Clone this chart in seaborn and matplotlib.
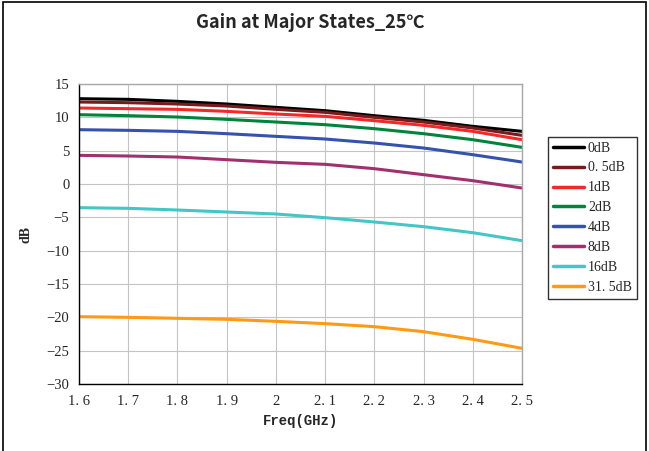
import matplotlib
matplotlib.use('Agg')
import matplotlib.pyplot as plt
import pandas as pd
import seaborn as sns
from matplotlib.patches import Rectangle

# Gain readings (dB) at each frequency, one list per attenuation state
freq = [1.6, 1.7, 1.8, 1.9, 2.0, 2.1, 2.2, 2.3, 2.4, 2.5]
gain_0db = [12.8, 12.7, 12.4, 12.0, 11.5, 11.0, 10.25, 9.55, 8.65, 7.9]
gain_0_5db = [12.3, 12.2, 12.0, 11.7, 11.2, 10.75, 10.0, 9.3, 8.4, 7.3]
gain_1db = [11.4, 11.3, 11.2, 10.9, 10.5, 10.15, 9.5, 8.8, 7.9, 6.65]
gain_2db = [10.4, 10.25, 10.05, 9.7, 9.3, 8.9, 8.3, 7.55, 6.65, 5.5]
gain_4db = [8.15, 8.05, 7.9, 7.55, 7.15, 6.75, 6.15, 5.4, 4.4, 3.3]
gain_8db = [4.3, 4.2, 4.05, 3.65, 3.25, 2.95, 2.3, 1.4, 0.5, -0.6]
gain_16db = [-3.55, -3.65, -3.9, -4.2, -4.5, -5.05, -5.7, -6.4, -7.3, -8.5]
gain_31_5db = [-19.9, -20.0, -20.15, -20.3, -20.6, -20.95, -21.4, -22.15, -23.3, -24.65]

states = ['0dB', '0. 5dB', '1dB', '2dB', '4dB', '8dB', '16dB', '31. 5dB']
series = [gain_0db, gain_0_5db, gain_1db, gain_2db, gain_4db, gain_8db, gain_16db, gain_31_5db]
colors = ['#000000', '#7a1a1a', '#f42828', '#00843c', '#3552ae', '#a03070', '#45c6c6', '#ff9a14']

rows = []
for name, vals in zip(states, series):
    for f, v in zip(freq, vals):
        rows.append({'freq': f, 'gain': v, 'state': name})
df = pd.DataFrame(rows)

sns.set_style('white')
serif = ['Liberation Serif', 'DejaVu Serif']

fig = plt.figure(figsize=(6.49, 4.51), dpi=100)
ax = fig.add_axes([0.1217, 0.1486, 0.6826, 0.6651])

sns.lineplot(data=df, x='freq', y='gain', hue='state', hue_order=states,
             palette=colors, linewidth=2.2, ax=ax)

ax.set_xlim(1.6, 2.5)
ax.set_ylim(-30, 15)
ax.set_xticks(freq)
ax.set_xticklabels(['1. 6', '1. 7', '1. 8', '1. 9', '2', '2. 1', '2. 2', '2. 3', '2. 4', '2. 5'],
                   family=serif, fontsize=10.5)
ax.set_yticks(range(-30, 16, 5))
ax.set_yticklabels([str(v).replace('-', '\u2212') for v in range(-30, 16, 5)],
                   family=serif, fontsize=10.5)
ax.tick_params(axis='x', direction='in', length=5, width=1, color='black', pad=8)
ax.tick_params(axis='y', direction='out', length=4, width=1, color='black', pad=3)
ax.grid(True, color='#c4c4c4', linewidth=0.8)
for side in ['left', 'bottom']:
    ax.spines[side].set_color('black')
    ax.spines[side].set_linewidth(1.0)
for side in ['top', 'right']:
    ax.spines[side].set_color('#a8a8a8')
    ax.spines[side].set_linewidth(1.0)

ax.set_xlabel('Freq(GHz)', family=['Liberation Mono', 'DejaVu Sans Mono'], fontweight='bold',
              fontsize=10, labelpad=4)
ax.set_ylabel('dB', family=['Liberation Serif', 'DejaVu Serif'], fontweight='bold',
              fontsize=10, labelpad=10)

fig.text(0.478, 0.951, 'Gain at Major States_25\u2103', ha='center', va='center',
         family=['Noto Sans CJK TC', 'DejaVu Sans'], fontweight='bold', fontsize=13)

leg = ax.legend(loc='upper left', bbox_to_anchor=(0.845, 0.697),
                bbox_transform=fig.transFigure, frameon=True, fancybox=False,
                prop={'family': serif, 'size': 10}, handlelength=2.2,
                handletextpad=0.3, labelspacing=0.5, borderpad=0.35,
                borderaxespad=0)
leg.get_frame().set_edgecolor('black')
leg.get_frame().set_linewidth(1.0)
for line in leg.get_lines():
    line.set_linewidth(2.5)

# outer frame of the picture
fig.patches.append(Rectangle((0.004, -0.01), 0.991, 1.005, transform=fig.transFigure,
                             fill=False, edgecolor='black', linewidth=1.2))

fig.savefig('out.png', dpi=100)
